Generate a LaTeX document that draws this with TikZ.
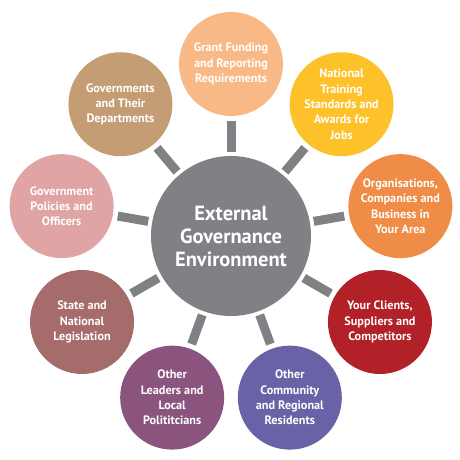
\documentclass[tikz,border=0pt]{standalone}
\usepackage{fontspec}
\setmainfont{PT Sans}
\definecolor{hubgrey}{HTML}{808184}
\definecolor{grantc}{HTML}{F8B987}
\definecolor{natc}{HTML}{FDC12A}
\definecolor{orgc}{HTML}{EF8C48}
\definecolor{clientc}{HTML}{B22028}
\definecolor{commc}{HTML}{6A62A6}
\definecolor{leadc}{HTML}{8B547E}
\definecolor{statec}{HTML}{A66B6B}
\definecolor{polc}{HTML}{E0A4A4}
\definecolor{govc}{HTML}{C59D74}
\tikzset{
  hub/.style={circle, fill=hubgrey, minimum size=160pt, inner sep=0pt, outer sep=0pt,
    text=white, align=center, font=\fontsize{20.5}{23}\selectfont\bfseries},
  leaf/.style={circle, minimum size=104pt, inner sep=0pt, outer sep=0pt,
    text=white, align=center, font=\fontsize{12.2}{15.3}\selectfont\bfseries},
  spoke/.style={draw=hubgrey, line width=9pt, shorten <=4pt, shorten >=5pt}
}
\begin{document}
\begin{tikzpicture}[x=1pt,y=1pt]
  \useasboundingbox (0,0) rectangle (460,460);
  \begin{scope}[shift={(231,224)}]
    \draw
      (0,0) node[hub] (hub){External\\Governance\\Environment}
      (90:172) node[leaf, fill=grantc] (grant){Grant Funding\\and Reporting\\Requirements}
      (50:172) node[leaf, fill=natc] (nat){National\\Training\\Standards and\\Awards for\\Jobs}
      (10:172) node[leaf, fill=orgc] (org){Organisations,\\Companies and\\Business in\\Your Area}
      (-30:172) node[leaf, fill=clientc] (client){Your Clients,\\Suppliers and\\Competitors}
      (-70:172) node[leaf, fill=commc] (comm){Other\\Community\\and Regional\\Residents}
      (-110:172) node[leaf, fill=leadc] (lead){Other\\Leaders and\\Local\\Polititcians}
      (-150:172) node[leaf, fill=statec] (state){State and\\National\\Legislation}
      (170:172) node[leaf, fill=polc] (pol){Government\\Policies and\\Officers}
      (130:172) node[leaf, fill=govc] (gov){Governments\\and Their\\Departments};
    \begin{scope}[spoke]
      \draw (hub) to (grant);
      \draw (hub) to (nat);
      \draw (hub) to (org);
      \draw (hub) to (client);
      \draw (hub) to (comm);
      \draw (hub) to (lead);
      \draw (hub) to (state);
      \draw (hub) to (pol);
      \draw (hub) to (gov);
    \end{scope}
  \end{scope}
\end{tikzpicture}
\end{document}
